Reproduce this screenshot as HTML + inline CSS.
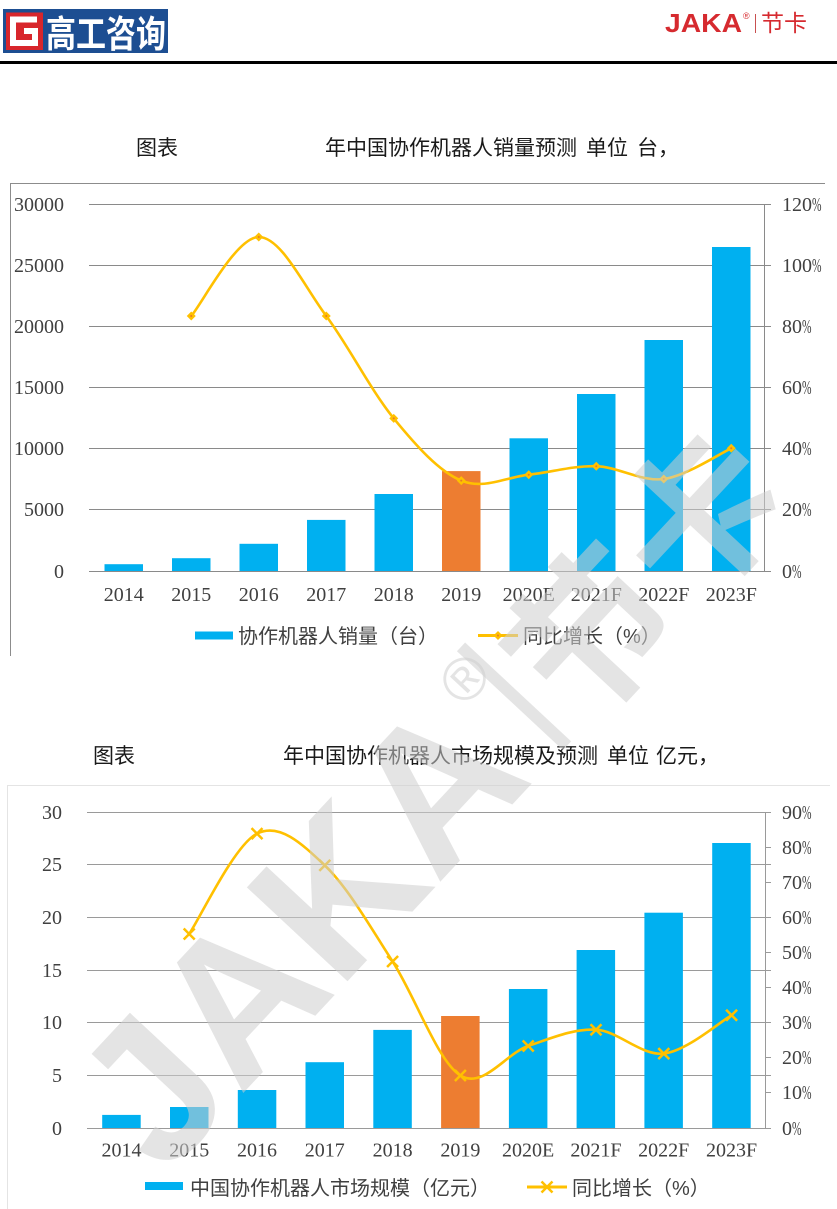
<!DOCTYPE html>
<html><head><meta charset="utf-8"><style>
html,body{margin:0;padding:0;background:#fff;}
svg{display:block;}
.num{font-family:"Liberation Serif",serif;font-size:20px;fill:#404040;}
.cjk{font-family:"Liberation Sans","Noto Sans CJK SC",sans-serif;}
</style></head><body>
<svg width="837" height="1209" viewBox="0 0 837 1209" xmlns="http://www.w3.org/2000/svg">
<!-- Header -->
<rect x="3" y="9" width="165" height="44" fill="#1d4e92"/>
<rect x="6" y="12.5" width="37" height="37.5" fill="#d8262c"/>
<path d="M37 19.5 L13 19.5 L13 43 L35 43 L35 31 L24 31" fill="none" stroke="#fff" stroke-width="6"/>
<text x="46" y="47" class="cjk" font-size="37" font-weight="bold" fill="#fff" textLength="120" lengthAdjust="spacingAndGlyphs">高工咨询</text>
<text x="665" y="32" font-family="Liberation Sans,sans-serif" font-size="26" font-weight="bold" fill="#d62a2f" textLength="77" lengthAdjust="spacingAndGlyphs">JAKA</text>
<text x="743" y="19" font-family="Liberation Sans,sans-serif" font-size="9" fill="#d62a2f">®</text>
<line x1="755.5" y1="14" x2="755.5" y2="33" stroke="#c85050" stroke-width="1"/>
<text x="761" y="31" class="cjk" font-size="23" fill="#d62a2f">节卡</text>
<rect x="0" y="61" width="837" height="3" fill="#000"/>

<!-- Chart 1 -->
<text x="136" y="155" class="cjk" font-size="21" fill="#1a1a1a">图表</text>
<text x="325" y="155" class="cjk" font-size="21" fill="#1a1a1a">年中国协作机器人销量预测</text>
<text x="586" y="155" class="cjk" font-size="21" fill="#1a1a1a">单位</text>
<text x="637" y="155" class="cjk" font-size="21" fill="#1a1a1a">台，</text>
<line x1="10.5" y1="183" x2="10.5" y2="656" stroke="#8c8c8c" stroke-width="1"/>
<line x1="10" y1="183.5" x2="825" y2="183.5" stroke="#8c8c8c" stroke-width="1"/>
<g stroke="#8a8a8a" stroke-width="1">
<line x1="89" y1="204.5" x2="771" y2="204.5"/>
<line x1="89" y1="265.5" x2="771" y2="265.5"/>
<line x1="89" y1="326.5" x2="771" y2="326.5"/>
<line x1="89" y1="387.5" x2="771" y2="387.5"/>
<line x1="89" y1="448.5" x2="771" y2="448.5"/>
<line x1="89" y1="509.5" x2="771" y2="509.5"/>
<line x1="89" y1="571.5" x2="771" y2="571.5"/>
<line x1="764.5" y1="204" x2="764.5" y2="572"/>
</g>
<g class="num" text-anchor="end">
<text x="64" y="211">30000</text>
<text x="64" y="272">25000</text>
<text x="64" y="333">20000</text>
<text x="64" y="394">15000</text>
<text x="64" y="455">10000</text>
<text x="64" y="516">5000</text>
<text x="64" y="578">0</text>
</g>
<g class="num">
<text x="782" y="211">120</text><text x="812" y="211" textLength="9.5" lengthAdjust="spacingAndGlyphs">%</text>
<text x="782" y="272">100</text><text x="812" y="272" textLength="9.5" lengthAdjust="spacingAndGlyphs">%</text>
<text x="782" y="333">80</text><text x="802" y="333" textLength="9.5" lengthAdjust="spacingAndGlyphs">%</text>
<text x="782" y="394">60</text><text x="802" y="394" textLength="9.5" lengthAdjust="spacingAndGlyphs">%</text>
<text x="782" y="455">40</text><text x="802" y="455" textLength="9.5" lengthAdjust="spacingAndGlyphs">%</text>
<text x="782" y="516">20</text><text x="802" y="516" textLength="9.5" lengthAdjust="spacingAndGlyphs">%</text>
<text x="782" y="578">0</text><text x="792" y="578" textLength="9.5" lengthAdjust="spacingAndGlyphs">%</text>
</g>
<g fill="#00b0f0">
<rect x="104.5" y="564.2" width="38.5" height="6.8"/>
<rect x="172" y="558.2" width="38.5" height="12.8"/>
<rect x="239.5" y="543.8" width="38.5" height="27.2"/>
<rect x="307" y="519.9" width="38.5" height="51.1"/>
<rect x="374.5" y="494" width="38.5" height="77"/>
<rect x="442" y="471.1" width="38.5" height="99.9" fill="#ed7d31"/>
<rect x="509.5" y="438.3" width="38.5" height="132.7"/>
<rect x="577" y="394" width="38.5" height="177"/>
<rect x="644.5" y="340" width="38.5" height="231"/>
<rect x="712" y="247" width="38.5" height="324"/>
</g>
<g class="num" text-anchor="middle">
<text x="123.75" y="601">2014</text>
<text x="191.25" y="601">2015</text>
<text x="258.75" y="601">2016</text>
<text x="326.25" y="601">2017</text>
<text x="393.75" y="601">2018</text>
<text x="461.25" y="601">2019</text>
<text x="528.75" y="601">2020E</text>
<text x="596.25" y="601">2021F</text>
<text x="663.75" y="601">2022F</text>
<text x="731.25" y="601">2023F</text>
</g>
<g transform="translate(1,0)">
<path d="M190.25 316 C201.5 302.83 235.25 237 257.75 237 C280.25 237 302.75 285.77 325.25 316 C347.75 346.23 370.25 390.97 392.75 418.4 C415.25 445.83 437.75 471.22 460.25 480.6 C482.75 489.98 505.25 477.1 527.75 474.7 C550.25 472.3 572.75 465.48 595.25 466.2 C617.75 466.92 640.25 481.98 662.75 479 C685.25 476.02 719 453.42 730.25 448.3" fill="none" stroke="#ffc000" stroke-width="2.6"/>
<g fill="#ffc000">
<path d="M190.25 311.5 L194.75 316 L190.25 320.5 L185.75 316 Z"/>
<path d="M257.75 232.5 L262.25 237 L257.75 241.5 L253.25 237 Z"/>
<path d="M325.25 311.5 L329.75 316 L325.25 320.5 L320.75 316 Z"/>
<path d="M392.75 413.9 L397.25 418.4 L392.75 422.9 L388.25 418.4 Z"/>
<path d="M460.25 476.1 L464.75 480.6 L460.25 485.1 L455.75 480.6 Z"/>
<path d="M527.75 470.2 L532.25 474.7 L527.75 479.2 L523.25 474.7 Z"/>
<path d="M595.25 461.7 L599.75 466.2 L595.25 470.7 L590.75 466.2 Z"/>
<path d="M662.75 474.5 L667.25 479 L662.75 483.5 L658.25 479 Z"/>
<path d="M730.25 443.8 L734.75 448.3 L730.25 452.8 L725.75 448.3 Z"/>
</g>
<g fill="#e8792a">
<circle cx="190.25" cy="316" r="1"/><circle cx="257.75" cy="237" r="1"/><circle cx="325.25" cy="316" r="1"/>
<circle cx="392.75" cy="418.4" r="1"/><circle cx="460.25" cy="480.6" r="1"/><circle cx="527.75" cy="474.7" r="1"/>
<circle cx="595.25" cy="466.2" r="1"/><circle cx="662.75" cy="479" r="1"/><circle cx="730.25" cy="448.3" r="1"/>
</g>
</g>
<rect x="195" y="631.5" width="38" height="8" fill="#00b0f0"/>
<text x="238" y="643" class="cjk" font-size="20" fill="#404040">协作机器人销量（台）</text>
<line x1="478" y1="635.5" x2="518" y2="635.5" stroke="#ffc000" stroke-width="3"/>
<path d="M498 631 L502.5 635.5 L498 640 L493.5 635.5 Z" fill="#ffc000"/>
<circle cx="498" cy="635.5" r="1" fill="#e8792a"/>
<text x="523" y="643" class="cjk" font-size="20" fill="#404040">同比增长（%）</text>

<!-- Chart 2 -->
<text x="93" y="763" class="cjk" font-size="21" fill="#1a1a1a">图表</text>
<text x="283" y="763" class="cjk" font-size="21" fill="#1a1a1a">年中国协作机器人市场规模及预测</text>
<text x="607" y="763" class="cjk" font-size="21" fill="#1a1a1a">单位</text>
<text x="656" y="763" class="cjk" font-size="21" fill="#1a1a1a">亿元，</text>
<line x1="7.5" y1="785" x2="7.5" y2="1209" stroke="#e4e4e4" stroke-width="1"/>
<line x1="7" y1="785.5" x2="830" y2="785.5" stroke="#e4e4e4" stroke-width="1"/>
<g stroke="#9a9a9a" stroke-width="1">
<line x1="87" y1="812.5" x2="771" y2="812.5"/>
<line x1="87" y1="864.5" x2="771" y2="864.5"/>
<line x1="87" y1="917.5" x2="771" y2="917.5"/>
<line x1="87" y1="970.5" x2="771" y2="970.5"/>
<line x1="87" y1="1022.5" x2="771" y2="1022.5"/>
<line x1="87" y1="1075.5" x2="771" y2="1075.5"/>
<line x1="87" y1="1128.5" x2="771" y2="1128.5"/>
<line x1="765.5" y1="812" x2="765.5" y2="1129"/>
<line x1="765" y1="847.5" x2="771" y2="847.5"/>
<line x1="765" y1="882.5" x2="771" y2="882.5"/>
<line x1="765" y1="952.5" x2="771" y2="952.5"/>
<line x1="765" y1="987.5" x2="771" y2="987.5"/>
<line x1="765" y1="1057.5" x2="771" y2="1057.5"/>
<line x1="765" y1="1092.5" x2="771" y2="1092.5"/>
</g>
<g class="num" text-anchor="end">
<text x="62" y="819">30</text>
<text x="62" y="871">25</text>
<text x="62" y="924">20</text>
<text x="62" y="977">15</text>
<text x="62" y="1029">10</text>
<text x="62" y="1082">5</text>
<text x="62" y="1135">0</text>
</g>
<g class="num">
<text x="782" y="819">90</text><text x="802" y="819" textLength="9.5" lengthAdjust="spacingAndGlyphs">%</text>
<text x="782" y="854">80</text><text x="802" y="854" textLength="9.5" lengthAdjust="spacingAndGlyphs">%</text>
<text x="782" y="889">70</text><text x="802" y="889" textLength="9.5" lengthAdjust="spacingAndGlyphs">%</text>
<text x="782" y="924">60</text><text x="802" y="924" textLength="9.5" lengthAdjust="spacingAndGlyphs">%</text>
<text x="782" y="959">50</text><text x="802" y="959" textLength="9.5" lengthAdjust="spacingAndGlyphs">%</text>
<text x="782" y="994">40</text><text x="802" y="994" textLength="9.5" lengthAdjust="spacingAndGlyphs">%</text>
<text x="782" y="1029">30</text><text x="802" y="1029" textLength="9.5" lengthAdjust="spacingAndGlyphs">%</text>
<text x="782" y="1064">20</text><text x="802" y="1064" textLength="9.5" lengthAdjust="spacingAndGlyphs">%</text>
<text x="782" y="1099">10</text><text x="802" y="1099" textLength="9.5" lengthAdjust="spacingAndGlyphs">%</text>
<text x="782" y="1135">0</text><text x="792" y="1135" textLength="9.5" lengthAdjust="spacingAndGlyphs">%</text>
</g>
<g fill="#00b0f0">
<rect x="102.2" y="1114.9" width="38.5" height="13.1"/>
<rect x="170" y="1107" width="38.5" height="21"/>
<rect x="237.8" y="1090" width="38.5" height="38"/>
<rect x="305.5" y="1062.2" width="38.5" height="65.8"/>
<rect x="373.3" y="1029.9" width="38.5" height="98.1"/>
<rect x="441.1" y="1016" width="38.5" height="112" fill="#ed7d31"/>
<rect x="508.9" y="989" width="38.5" height="139"/>
<rect x="576.6" y="950" width="38.5" height="178"/>
<rect x="644.4" y="912.7" width="38.5" height="215.3"/>
<rect x="712.2" y="843" width="38.5" height="285"/>
</g>
<g class="num" text-anchor="middle">
<text x="121.5" y="1156.5">2014</text>
<text x="189.3" y="1156.5">2015</text>
<text x="257" y="1156.5">2016</text>
<text x="324.8" y="1156.5">2017</text>
<text x="392.6" y="1156.5">2018</text>
<text x="460.4" y="1156.5">2019</text>
<text x="528.1" y="1156.5">2020E</text>
<text x="595.9" y="1156.5">2021F</text>
<text x="663.7" y="1156.5">2022F</text>
<text x="731.5" y="1156.5">2023F</text>
</g>
<g transform="translate(0.5,0)">
<path d="M188.7 934 C200 917.27 233.9 845.03 256.5 833.6 C279.1 822.17 301.7 844.08 324.3 865.4 C346.9 886.72 369.5 926.48 392.1 961.5 C414.7 996.52 437.3 1061.42 459.9 1075.5 C482.5 1089.58 505.1 1053.63 527.7 1046 C550.3 1038.37 572.9 1028.43 595.5 1029.7 C618.1 1030.97 640.7 1056.02 663.3 1053.6 C685.9 1051.18 719.8 1021.6 731.1 1015.2" fill="none" stroke="#ffc000" stroke-width="2.6"/>
<g stroke="#ffc000" stroke-width="2.5" fill="none">
<path d="M183.2 928.5 L194.2 939.5 M194.2 928.5 L183.2 939.5"/>
<path d="M251 828.1 L262 839.1 M262 828.1 L251 839.1"/>
<path d="M318.8 859.9 L329.8 870.9 M329.8 859.9 L318.8 870.9"/>
<path d="M386.6 956 L397.6 967 M397.6 956 L386.6 967"/>
<path d="M454.4 1070 L465.4 1081 M465.4 1070 L454.4 1081"/>
<path d="M522.2 1040.5 L533.2 1051.5 M533.2 1040.5 L522.2 1051.5"/>
<path d="M590 1024.2 L601 1035.2 M601 1024.2 L590 1035.2"/>
<path d="M657.8 1048.1 L668.8 1059.1 M668.8 1048.1 L657.8 1059.1"/>
<path d="M725.6 1009.7 L736.6 1020.7 M736.6 1009.7 L725.6 1020.7"/>
</g>
</g>
<rect x="145" y="1182" width="38" height="8" fill="#00b0f0"/>
<text x="190" y="1195" class="cjk" font-size="20" fill="#404040">中国协作机器人市场规模（亿元）</text>
<line x1="527" y1="1187" x2="567" y2="1187" stroke="#ffc000" stroke-width="3"/>
<path d="M541.5 1181.5 L552.5 1192.5 M552.5 1181.5 L541.5 1192.5" stroke="#ffc000" stroke-width="2.5"/>
<text x="572" y="1195" class="cjk" font-size="20" fill="#404040">同比增长（%）</text>

<!-- Watermark -->
<g transform="translate(164,1178) rotate(-47)" fill="rgba(205,205,205,0.55)">
<text x="0" y="0" font-family="Liberation Sans,sans-serif" font-size="200" font-weight="bold">JAKA</text>
<text x="548" y="-100" font-family="Liberation Sans,sans-serif" font-size="60">®</text>
<rect x="585" y="-145" width="12" height="145"/>
<text x="610" y="0" font-family="Liberation Sans,'Noto Sans CJK SC',sans-serif" font-size="160" font-weight="bold">节卡</text>
</g>
</svg>
</body></html>
